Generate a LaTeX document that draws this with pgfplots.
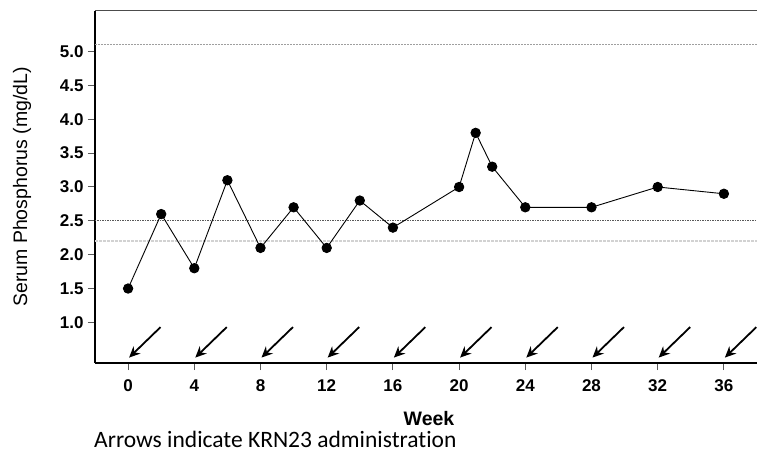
\documentclass[border=0pt]{standalone}
\usepackage{pgfplots}
\pgfplotsset{compat=1.18}
\usepackage{fontspec}
\setmainfont{Liberation Sans}
\newfontfamily\calibri[Ligatures={NoCommon}]{Carlito}
\usetikzlibrary{arrows.meta}
\begin{document}
\begin{tikzpicture}
\begin{axis}[
  scale only axis,
  width=662bp, height=352bp,
  xmin=-2, xmax=38, ymin=0.4, ymax=5.6,
  axis x line*=bottom, axis y line*=left,
  axis line style={black, line width=1.3bp},
  xtick={0,4,...,36},
  ytick={1.0,1.5,...,5.0},
  tick align=outside,
  major tick length=7bp,
  tick style={gray!70!black, line width=1bp},
  /pgf/number format/assume math mode=true,
  yticklabel style={/pgf/number format/fixed, /pgf/number format/fixed zerofill, /pgf/number format/precision=1, font=\fontsize{17bp}{19bp}\selectfont\bfseries, xshift=-1bp},
  xticklabel style={font=\fontsize{17bp}{19bp}\selectfont\bfseries, yshift=-6bp},
  ylabel={Serum Phosphorus (mg/dL)},
  every axis y label/.style={at={(rel axis cs:0,0.5)}, xshift=-73bp, rotate=90, anchor=center, font=\fontsize{19.5bp}{22bp}\selectfont},
  xlabel={Week},
  every axis x label/.style={at={(rel axis cs:0.5,0)}, xshift=3bp, yshift=-55.5bp, anchor=center, font=\fontsize{19.5bp}{22bp}\selectfont\bfseries},
  clip=false,
]
\draw[gray!60!black, line width=1bp] (rel axis cs:0,1) -- (rel axis cs:1,1);
% reference lines
\addplot[gray!75, line width=0.8bp, dash pattern=on 2bp off 1bp] coordinates {(-2,5.1) (38,5.1)};
\addplot[gray!70!black, line width=0.7bp, dash pattern=on 1.5bp off 1bp] coordinates {(-2,2.5) (38,2.5)};
\addplot[gray!35, line width=1.8bp, dash pattern=on 3bp off 1bp] coordinates {(-2,2.2) (38,2.2)};
% data
\addplot[black, line width=0.9bp, mark=*, mark size=4.7bp, mark options={fill=black}] coordinates {
 (0,1.5) (2,2.6) (4,1.8) (6,3.1) (8,2.1) (10,2.7) (12,2.1) (14,2.8) (16,2.4)
 (20,3.0) (21,3.8) (22,3.3) (24,2.7) (28,2.7) (32,3.0) (36,2.9)};
% administration arrows
\addplot[black, line width=1.8bp, -{Stealth[length=11bp,width=10bp]}, quiver={u=-1.9, v=-0.45}] coordinates {
 (1.96,0.93) (5.96,0.93) (9.96,0.93) (13.96,0.93) (17.96,0.93) (21.96,0.93) (25.96,0.93) (29.96,0.93) (33.96,0.93) (37.96,0.93)};
\node[anchor=base west, inner sep=1bp, font=\fontsize{23.5bp}{26bp}\selectfont\calibri] at (rel axis cs:0,0) [xshift=-2bp, yshift=-84bp] {Arrows indicate KRN23 administration};
\end{axis}
\pgfresetboundingbox
\useasboundingbox (-95bp,-89bp) rectangle (662bp,363bp);
\end{tikzpicture}
\end{document}
